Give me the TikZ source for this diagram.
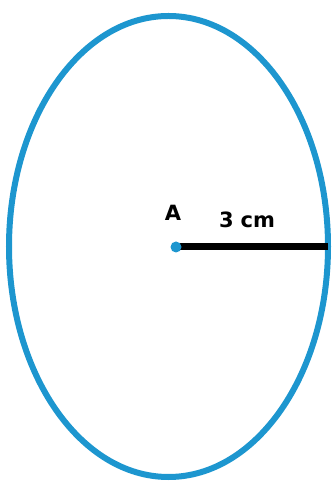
\documentclass[tikz,border=0pt]{standalone}
\usepackage{fontspec}
\newfontfamily\labelfont{DejaVu Sans}
\usetikzlibrary{shapes.geometric}
\definecolor{ellblue}{RGB}{29,150,207}
\tikzset{
  outline/.style={draw=ellblue, line width=6pt, ellipse, inner sep=0pt, minimum width=319pt, minimum height=461pt},
  radius line/.style={draw=black, line width=7pt},
  centre dot/.style={fill=ellblue, circle, inner sep=0pt, minimum size=11pt},
  lbl/.style={font=\labelfont\bfseries\fontsize{21}{23}\selectfont, inner sep=0pt}
}
\begin{document}
\begin{tikzpicture}[x=1pt,y=1pt]
\useasboundingbox (0,0) rectangle (335,487);
\node[outline] (ell) at (168.5,240.5) {};
\coordinate (A) at (176,240);
\coordinate (R) at (328,240);
\draw[radius line] (A) -- (R);
\node[centre dot] (dot) at (A) {};
\node[lbl] (la) at (173,274) {A};
\node[lbl] (lr) at (247,267) {3\hspace{7pt}cm};
\end{tikzpicture}
\end{document}
